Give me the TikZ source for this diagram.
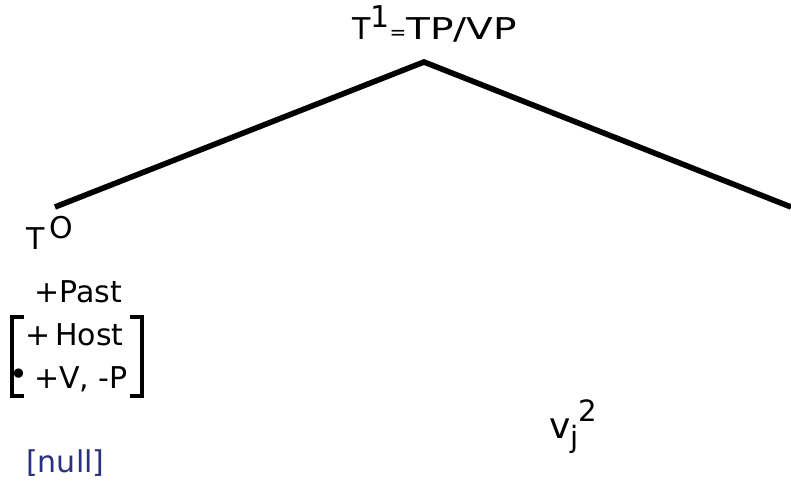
\documentclass[tikz,border=0pt]{standalone}
\usepackage{fontspec}
\setmainfont{DejaVu Sans}
\usepackage{xcolor}
\usepackage{tikz}
\definecolor{nullblue}{RGB}{42,50,128}

\begin{document}
\begin{tikzpicture}[
    x=0.75pt, y=-0.75pt,
    lbl/.style={inner sep=0pt, anchor=base west, font=\fontsize{22.5}{26}\selectfont},
    branch/.style={line width=4.2pt, line cap=butt},
    brack/.style={line width=2.5pt},
]
    \useasboundingbox (0,0) rectangle (791,485);
    % tree top and branches
    \node[lbl] (top) at (352,40)
        {T\raisebox{0.4em}{1}{\fontsize{15}{16}\selectfont =}\scalebox{1.3}[1]{TP/VP}};
    \coordinate (apex) at (424,62);
    \coordinate (lft) at (55,207);
    \coordinate (rgt) at (791,207);
    \draw[branch] (lft) -- (apex) -- (rgt);

    % head T0 and its features
    \node[lbl] (t0) at (26,249) {T\,\raisebox{0.36em}{O}};
    \node[lbl] (past) at (34,302) {+Past};
    \node[lbl] (host) at (25,345) {+\,Host};
    \node[lbl] (vp) at (34,388) {+V, -P};
    \node[inner sep=0pt] (dot) at (19,377) {\fontsize{24}{24}\selectfont\textbullet};
    \draw[brack] (24,317) -- (12,317) -- (12,396) -- (24,396);
    \draw[brack] (130,317) -- (142,317) -- (142,396) -- (130,396);
    \node[lbl, text=nullblue] (null) at (26,472) {[null]};

    % v_j^2
    \node[lbl, font=\fontsize{27}{30}\selectfont] (vj) at (549,438)
        {v\raisebox{-0.25em}{\fontsize{22}{24}\selectfont j}\raisebox{0.45em}{\fontsize{22}{24}\selectfont 2}};
\end{tikzpicture}
\end{document}
